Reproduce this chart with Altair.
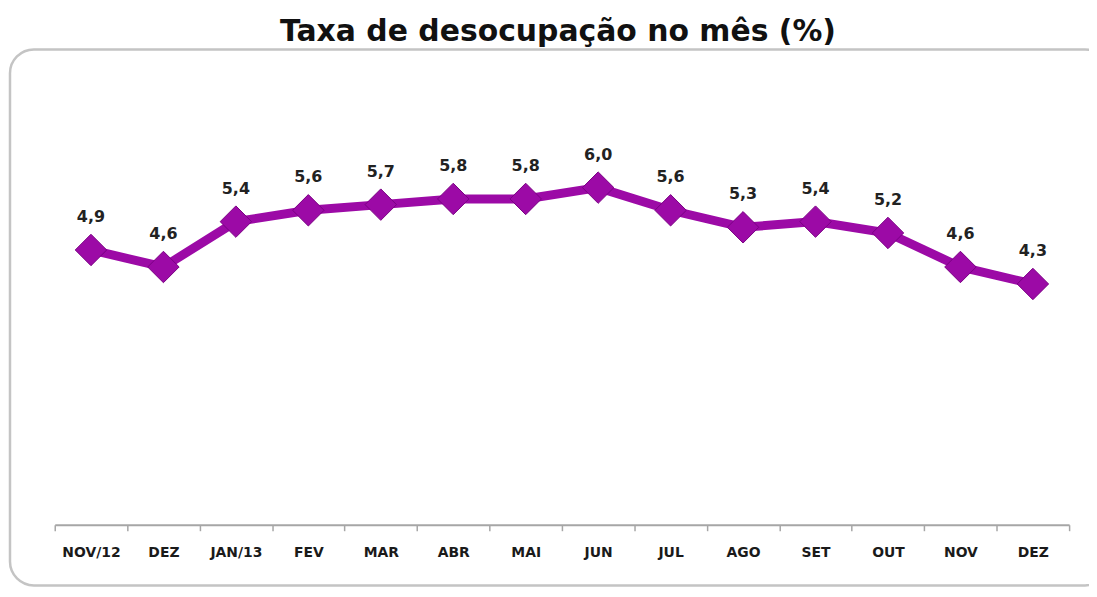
import altair as alt
import pandas as pd

months = ["NOV/12", "DEZ", "JAN/13", "FEV", "MAR", "ABR", "MAI", "JUN",
          "JUL", "AGO", "SET", "OUT", "NOV", "DEZ "]
rates = [4.9, 4.6, 5.4, 5.6, 5.7, 5.8, 5.8, 6.0, 5.6, 5.3, 5.4, 5.2, 4.6, 4.3]
labels = [f"{v:.1f}".replace(".", ",") for v in rates]

df = pd.DataFrame({"mes": months, "taxa": rates, "rotulo": labels})

purple = "#9c0aa6"

x = alt.X("mes:N", sort=months, title=None,
          scale=alt.Scale(paddingInner=0, paddingOuter=0),
          axis=alt.Axis(labelAngle=0, tickBand="extent", domainColor="#a6a6a6",
                        domainWidth=2, tickColor="#a6a6a6", tickSize=6, tickWidth=1.5,
                        labelFont="DejaVu Sans", labelFontSize=14, labelFontWeight="bold",
                        labelColor="#1a1a1a", labelPadding=15, offset=-3,
                        labelExpr="trim(datum.label)"))
y = alt.Y("taxa:Q", scale=alt.Scale(domain=[0, 8]), axis=None)

base = alt.Chart(df).encode(x=x, y=y)

line = base.mark_line(color=purple, strokeWidth=9)
pts = base.mark_point(shape="diamond", size=1000, filled=True, color=purple,
                      stroke="#7a0083", strokeWidth=1, opacity=1)
txt = base.mark_text(dy=-25, baseline="bottom", font="DejaVu Sans", fontSize=16,
                     fontWeight="bold", color="#222222").encode(text="rotulo:N")

border = alt.Chart(pd.DataFrame({"a": [0]})).mark_rect(
    filled=False, stroke="#c4c4c4", strokeWidth=2.5, cornerRadius=24
).encode(x=alt.value(-45), x2=alt.value(1060), y=alt.value(-25), y2=alt.value(514))

chart = alt.layer(border, line, pts, txt).properties(
    width=1020, height=456,
    autosize=alt.AutoSizeParams(type="none"),
    padding={"left": 47, "top": 65, "right": 20, "bottom": 60},
    title=alt.TitleParams("Taxa de desocupação no mês (%)", font="DejaVu Sans",
                          fontSize=30, fontWeight="bold", color="#111111",
                          anchor="middle", frame="group", baseline="alphabetic",
                          offset=5, dx=-4, dy=28),
).configure_view(stroke=None)

chart.save("out.html", embed_options={"renderer": "svg", "actions": False})
